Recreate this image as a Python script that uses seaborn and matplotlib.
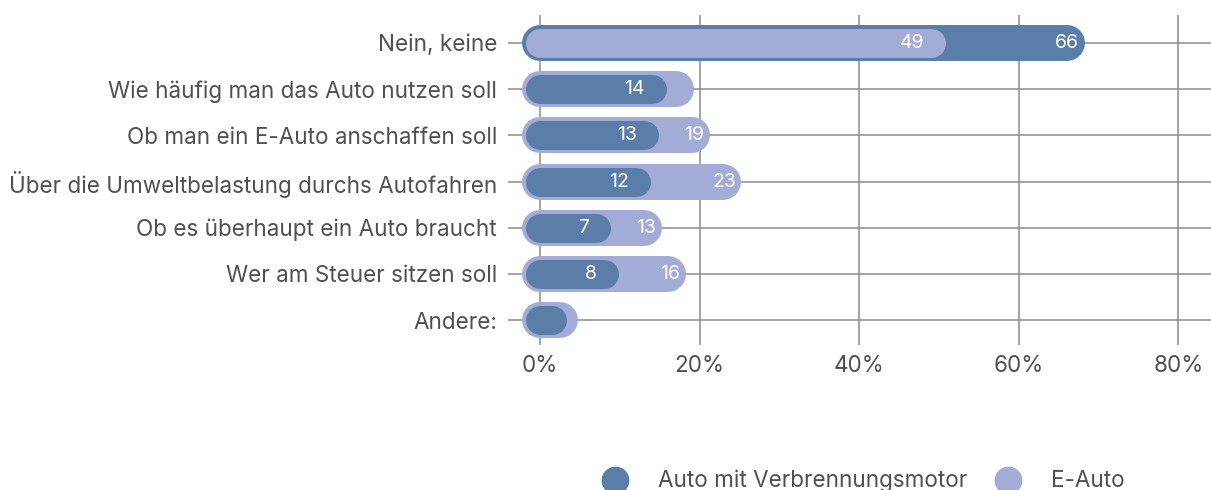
import pandas as pd
import seaborn as sns
from matplotlib import pyplot as plt
from matplotlib.lines import Line2D

categories = [
    'Nein, keine',
    'Wie häufig man das Auto nutzen soll',
    'Ob man ein E-Auto anschaffen soll',
    'Über die Umweltbelastung durchs Autofahren',
    'Ob es überhaupt ein Auto braucht',
    'Wer am Steuer sitzen soll',
    'Andere:',
]
series_names = ['Auto mit Verbrennungsmotor', 'E-Auto']
verbrenner = [66, 14, 13, 12, 7, 8, 1.5]
e_auto = [49, 17, 19, 23, 13, 16, 2.5]
verbrenner_labels = ['66', '14', '13', '12', '7', '8', '']
e_auto_labels = ['49', '', '19', '23', '13', '16', '']
x_ticks = [0, 20, 40, 60, 80]
x_tick_labels = ['0%', '20%', '40%', '60%', '80%']

colors = {'Auto mit Verbrennungsmotor': '#5a7ea7', 'E-Auto': '#a3acd7'}
text_color = '#505050'
grid_color = '#8c8c8c'

sns.set_theme(style='white')
plt.rcParams['font.family'] = ['Inter', 'DejaVu Sans']

# long table: every bar is a two-point line with round caps
rows = []
labels = []
for i, cat in enumerate(categories):
    vals = {series_names[0]: (verbrenner[i], verbrenner_labels[i]),
            series_names[1]: (e_auto[i], e_auto_labels[i])}
    longer = max(vals, key=lambda k: vals[k][0])
    for name, (v, lab) in vals.items():
        layer = 'outer' if name == longer else 'inner'
        for x in (0, v):
            rows.append({'cat': cat, 'pos': i, 'series': name, 'x': x, 'layer': layer})
        labels.append((i, v, lab, layer))
df = pd.DataFrame(rows)

fig = plt.figure(figsize=(12.11, 4.9), dpi=100)
ax = fig.add_axes([508 / 1211, 1 - 345 / 490, 1 - 508 / 1211, 330 / 490])

sns.lineplot(data=df[df.layer == 'outer'], x='x', y='pos', hue='series', units='cat',
             estimator=None, sort=False, palette=colors, linewidth=25.9,
             solid_capstyle='round', legend=False, ax=ax, zorder=3)
sns.lineplot(data=df[df.layer == 'inner'], x='x', y='pos', hue='series', units='cat',
             estimator=None, sort=False, palette=colors, linewidth=20.9,
             solid_capstyle='round', legend=False, ax=ax, zorder=4)

for i, v, lab, layer in labels:
    if not lab:
        continue
    dx = 9 if layer == 'outer' else -5
    ax.annotate(lab, (v, i), xytext=(dx, 0), textcoords='offset points',
                ha='right', va='center', color='white', fontsize=14, zorder=5)

ax.set_xlim(-4, 84.1)
ax.set_ylim(6.54, -0.606)
ax.set_xticks(x_ticks)
ax.set_xticklabels(x_tick_labels)
ax.set_yticks(range(len(categories)))
ax.set_yticklabels(categories)
ax.set_xlabel('')
ax.set_ylabel('')
ax.grid(True, color=grid_color, linewidth=1.1)
ax.set_axisbelow(True)
sns.despine(ax=ax, left=True, bottom=True)
ax.tick_params(axis='both', length=0, labelsize=16.2, colors=text_color)
ax.tick_params(axis='x', pad=7)
ax.tick_params(axis='y', pad=8)

handles = [Line2D([], [], marker='o', linestyle='', markersize=19,
                  markerfacecolor=colors[n], markeredgecolor=colors[n]) for n in series_names]
fig.legend(handles, series_names, loc='center', bbox_to_anchor=(0.709, 0.018), ncol=2,
           frameon=False, fontsize=16.2, labelcolor=text_color, handletextpad=0.9,
           columnspacing=0.85)

fig.savefig('out.png', dpi=100)
